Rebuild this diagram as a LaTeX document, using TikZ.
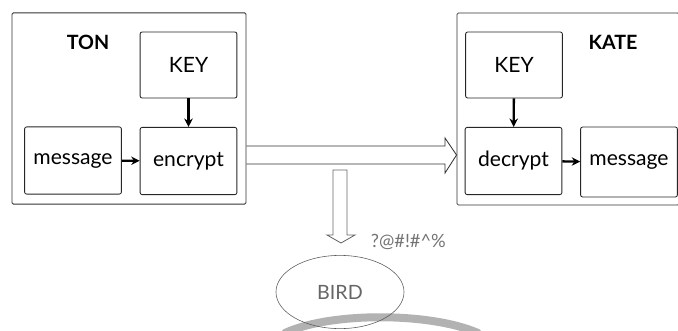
\documentclass[tikz,border=0pt]{standalone}
\usepackage{fontspec}
\setmainfont{Lato}
\usetikzlibrary{calc,arrows.meta,shapes.geometric}

\tikzset{
	box/.style = {draw = black!85, line width = 0.6pt, rounded corners = 1.5pt, minimum width = 2.42cm, minimum height = 1.68cm, font = \fontsize{15}{17}\selectfont},
	party/.style = {draw = black!80, line width = 0.6pt, rounded corners = 1pt},
	pipe/.style = {draw = black!80, line width = 0.6pt},
	flow/.style = {-{Stealth[length=6pt,width=6pt]}, line width = 1.7pt}
}

\begin{document}
\begin{tikzpicture}[x = 0.025cm, y = -0.025cm]
	\useasboundingbox (0,0) rectangle (678,330);
	% the two parties
	\node[party, minimum width = 5.85cm, minimum height = 4.78cm] (ton) at (129,108.5) {};
	\node[party, minimum width = 5.55cm, minimum height = 4.8cm] (kate) at (568,109) {};
	\node[font = \fontsize{14}{16}\selectfont\bfseries] (tonname) at (88,42) {TON};
	\node[font = \fontsize{14}{16}\selectfont\bfseries] (katename) at (613,42) {KATE};
	% sender side
	\node[box, minimum height = 1.65cm] (tkey) at (188.5,65) {KEY};
	\node[box] (encrypt) at (188.5,161) {encrypt};
	\node[box] (tmsg) at (73,160.5) {message};
	\draw[flow] (tkey) -- (encrypt);
	\draw[flow] (tmsg) -- (encrypt);
	% receiver side
	\node[box, minimum height = 1.65cm] (kkey) at (514,65) {KEY};
	\node[box] (decrypt) at (513.5,161) {decrypt};
	\node[box, minimum height = 1.75cm] (kmsg) at (629,162) {message};
	\draw[flow] (kkey) -- (decrypt);
	\draw[flow] (decrypt) -- (kmsg);
	% channel and the leak
	\draw[pipe] (ton.east |- 0,146) -- (445,146) -- (445,138) -- (kate.west |- 0,155) -- (445,173) -- (445,164) -- (ton.east |- 0,164);
	\draw[line width = 0.2cm, draw = black!30, line cap = round] (285,333) .. controls (330,312) and (430,312) .. (478,333);
	\node[ellipse, draw = black!65, minimum width = 3.2cm, minimum height = 1.83cm, font = \fontsize{14}{16}\selectfont, text = black!60] (bird) at (340,292) {BIRD};
	\draw[pipe, draw = black!60] (333,170) -- (333,235) -- (327,235) -- (341,243) -- (355,235) -- (347,235) -- (347,170) -- cycle;
	\node[right, font = \fontsize{13}{15}\selectfont, text = black!55] (cipher) at (366,242) {?@\#!\#\textasciicircum\%};
\end{tikzpicture}
\end{document}
